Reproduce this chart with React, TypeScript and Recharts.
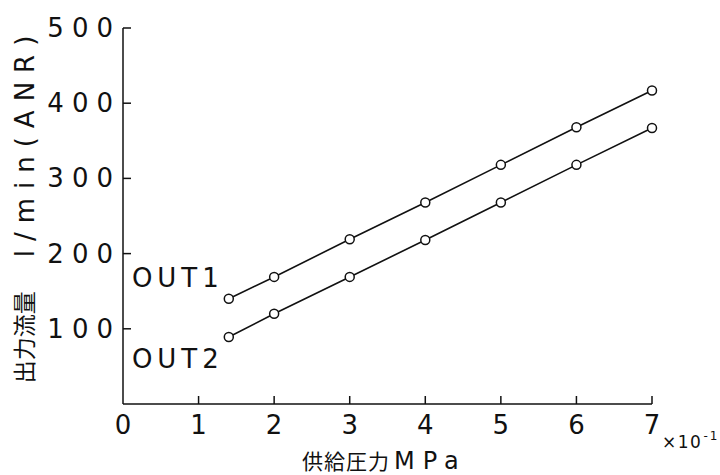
import { LineChart, Line, XAxis, YAxis, Label, LabelList } from 'recharts';

// supply pressure (x10^-1 MPa) and output flow (l/min ANR)
const pressure = [1.4, 2, 3, 4, 5, 6, 7];
const out1 = [140, 169, 219, 268, 318, 368, 417];
const out2 = [89, 120, 169, 218, 268, 318, 367];
const xTicks = [0, 1, 2, 3, 4, 5, 6, 7];
const yTicks = [100, 200, 300, 400, 500];

const rows = pressure.map((x, i) => ({ x, out1: out1[i], out2: out2[i] }));

const FONT = "'DejaVu Sans', 'Noto Sans CJK JP', sans-serif";
const INK = '#111';

// ticks point into the plot, like the old plotter drawing; x/y arrive on the axis line
// because tickSize and tickMargin are 0
const XTick = (props: any) => {
  const { x, y, payload } = props;
  return (
    <g>
      {payload.value > 0 && <line x1={x} y1={y} x2={x} y2={y - 8} stroke={INK} strokeWidth={1.5} />}
      <text x={x} y={y + 30} textAnchor="middle" fontFamily={FONT} fontSize={26} fill={INK}>
        {payload.value}
      </text>
    </g>
  );
};

const YTick = (props: any) => {
  const { x, y, payload } = props;
  return (
    <g>
      <line x1={x} y1={y} x2={x + 8} y2={y} stroke={INK} strokeWidth={1.5} />
      <text
        x={x - 2}
        y={y}
        textAnchor="end"
        dominantBaseline="central"
        fontFamily={FONT}
        fontSize={26}
        letterSpacing={8}
        fill={INK}
      >
        {payload.value}
      </text>
    </g>
  );
};

// series name written beside the first point only
const seriesTag = (name: string, dy: number) => (props: any) => {
  if (props.index !== 0) return null;
  const vb = props.viewBox || {};
  const x = vb.x ?? props.x;
  const y = vb.y ?? props.y;
  return (
    <text
      x={x - 5}
      y={y + dy}
      textAnchor="end"
      dominantBaseline="central"
      fontFamily={FONT}
      fontSize={26}
      letterSpacing={5}
      fill={INK}
    >
      {name}
    </text>
  );
};

const yTitle = () => (
  <text
    x={25}
    y={205}
    transform="rotate(-90, 25, 205)"
    textAnchor="middle"
    dominantBaseline="central"
    fontFamily={FONT}
    fill={INK}
  >
    <tspan fontSize={23} letterSpacing={0}>出力流量</tspan>
    <tspan dx={34} fontSize={26} letterSpacing={9}>l/min(ANR)</tspan>
  </text>
);

const xTitle = () => (
  <g fontFamily={FONT} fill={INK}>
    <text x={302} y={469}>
      <tspan fontSize={21} letterSpacing={1}>供給圧力</tspan>
      <tspan dx={4} fontSize={24} letterSpacing={8}>MPa</tspan>
    </text>
    <text x={662} y={448} fontSize={17} letterSpacing={1.5}>
      ×10
      <tspan dx={1} dy={-8} fontSize={12} letterSpacing={2}>-1</tspan>
    </text>
  </g>
);

export default function App() {
  return (
    <div style={{ position: 'absolute', left: 0, top: 0, background: '#fff' }}>
      <LineChart width={720} height={475} data={rows} margin={{ top: 28, right: 68, bottom: 0, left: 0 }}>
        <XAxis
          dataKey="x"
          type="number"
          domain={[0, 7]}
          ticks={xTicks}
          height={71}
          tickSize={0}
          tickMargin={0}
          tickLine={false}
          stroke={INK}
          strokeWidth={1.5}
          tick={<XTick />}
        >
          <Label content={xTitle} />
        </XAxis>
        <YAxis
          type="number"
          domain={[0, 500]}
          ticks={yTicks}
          width={123}
          tickSize={0}
          tickMargin={0}
          tickLine={false}
          stroke={INK}
          strokeWidth={1.5}
          tick={<YTick />}
        >
          <Label content={yTitle} />
        </YAxis>
        <Line
          dataKey="out1"
          name="OUT1"
          stroke={INK}
          strokeWidth={1.6}
          dot={{ r: 4.5, fill: '#fff', stroke: INK, strokeWidth: 1.5 }}
          isAnimationActive={false}
        >
          <LabelList dataKey="out1" content={seriesTag('OUT1', -21)} />
        </Line>
        <Line
          dataKey="out2"
          name="OUT2"
          stroke={INK}
          strokeWidth={1.6}
          dot={{ r: 4.5, fill: '#fff', stroke: INK, strokeWidth: 1.5 }}
          isAnimationActive={false}
        >
          <LabelList dataKey="out2" content={seriesTag('OUT2', 22)} />
        </Line>
      </LineChart>
    </div>
  );
}
